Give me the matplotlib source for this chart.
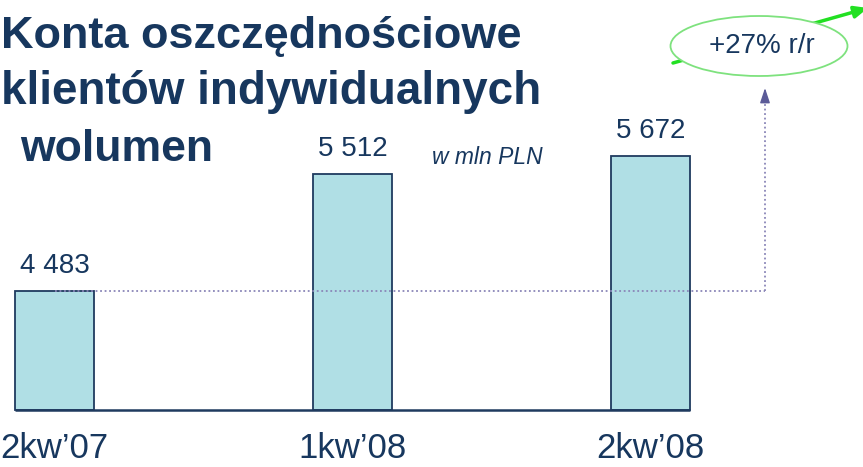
import matplotlib
matplotlib.use("Agg")
import matplotlib.pyplot as plt
import numpy as np
from matplotlib.patches import Ellipse

# ---- data ----
categories = ["2kw\u201907", "1kw\u201908", "2kw\u201908"]
values = [4483, 5512, 5672]
value_labels = ["4 483", "5 512", "5 672"]
growth_label = "+27% r/r"
unit_label = "w mln PLN"
title_lines = ["Konta oszcz\u0119dno\u015bciowe", "klient\u00f3w indywidualnych", "wolumen"]

# ---- style ----
NAVY = "#17375e"
BAR_FILL = "#b0dfe5"
BAR_EDGE = "#1f3a5f"
DOT = "#8a86b8"
GREEN = "#22e022"
ELL = "#7ee27e"
FONT = "Liberation Sans"

W, H = 863, 467
fig = plt.figure(figsize=(W / 100, H / 100), dpi=100)
ax = fig.add_axes([0, 0, 1, 1])
ax.axis("off")

# layout: bar pitch / scale (pixels)
pitch = 298.0
x0 = 54.5
base = 3435.0
k = 0.1135  # px per unit
ax.set_xlim(-x0 / pitch, (W - x0) / pitch)
ax.set_ylim(base - (H - 410) / k, base + 410 / k)

def fig_px(x, y):
    return x / W, 1 - y / H

x = np.arange(len(values))
bw = 79 / pitch
ax.bar(x, np.array(values) - base, bottom=base, width=bw, color=BAR_FILL,
       edgecolor=BAR_EDGE, linewidth=1.3, zorder=2)
# baseline
ax.hlines(base, x[0] - bw / 2, x[-1] + bw / 2, color=BAR_EDGE, lw=1.8, zorder=3)

for xi, v, lab in zip(x, values, value_labels):
    ax.annotate(lab, xy=(xi, v), xytext=(0, 18), textcoords="offset pixels",
                ha="center", va="baseline", fontsize=20, color=NAVY, family=FONT)
for xi, c in zip(x, categories):
    ax.annotate(c, xy=(xi, base), xytext=(0, -48), textcoords="offset pixels",
                ha="center", va="baseline", fontsize=25, color=NAVY, family=FONT)

# dotted reference line from first bar top, then up to arrow
xr = (765 - x0) / pitch
ytop = base + (410 - 88) / k
ax.plot([x[0], xr], [values[0], values[0]], color=DOT, lw=1.3,
        linestyle=(0, (1, 1.5)), zorder=4)
ax.plot([xr, xr], [values[0], ytop - 8 / k], color=DOT, lw=1.3,
        linestyle=(0, (1, 1.5)), zorder=4)
ax.annotate("", xy=(xr, ytop), xytext=(xr, ytop - 14 / k),
            arrowprops=dict(arrowstyle="-|>,head_length=0.9,head_width=0.3",
                            color="#5b5b98", lw=1, shrinkA=0, shrinkB=0),
            zorder=5)

# green trend arrow + ellipse
ax.annotate("", xy=fig_px(868, 8), xytext=fig_px(673, 63),
            xycoords="figure fraction", textcoords="figure fraction",
            arrowprops=dict(arrowstyle="-|>,head_length=0.8,head_width=0.35",
                            color=GREEN, lw=2.5, shrinkA=0, shrinkB=0), zorder=5)
cx, cy = fig_px(759, 46)
ell = Ellipse((cx, cy), 177 / W, 60 / H, transform=fig.transFigure,
              facecolor="white", edgecolor=ELL, lw=1.3, zorder=6)
fig.add_artist(ell)
tx_, ty_ = fig_px(762, 46)
fig.text(tx_, ty_, growth_label, ha="center", va="center", fontsize=20,
         color=NAVY, family=FONT, zorder=7)

# title
tx = [1, 1, 20]
ty = [48, 104, 161]
fs = [32.5, 33, 32]
for t, xx, yy, f in zip(title_lines, tx, ty, fs):
    px, py = fig_px(xx, yy)
    fig.text(px, py, t, ha="left", va="baseline", fontsize=f,
             fontweight="bold", color=NAVY, family=FONT)
px, py = fig_px(432, 164)
fig.text(px, py, unit_label, ha="left", va="baseline", fontsize=16.5,
         style="italic", color=NAVY, family=FONT)

fig.savefig("out.png", dpi=100)
